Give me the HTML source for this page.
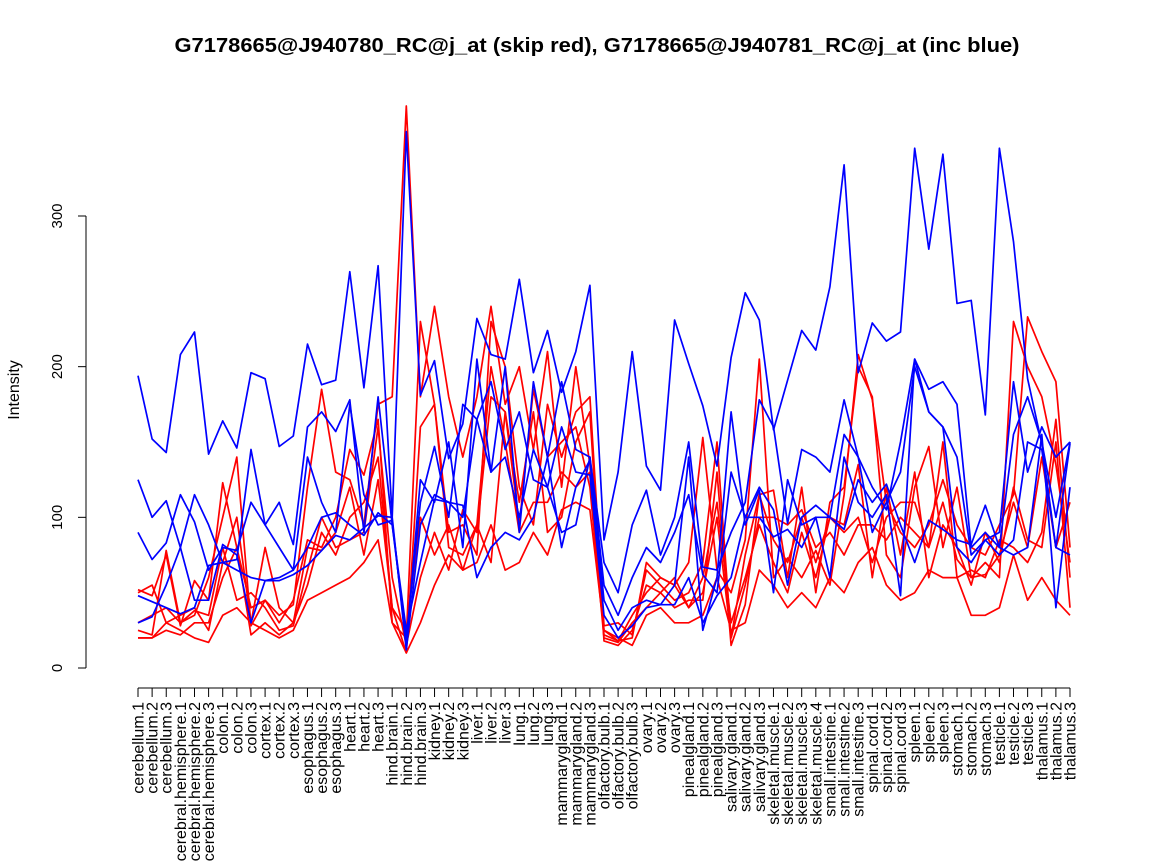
<!DOCTYPE html>
<html><head><meta charset="utf-8"><style>
html,body{margin:0;padding:0;background:#fff;overflow:hidden;}
svg{display:block;font-family:"Liberation Sans",sans-serif;}
</style></head><body>
<svg id="chart" width="1152" height="864" viewBox="0 0 1152 864" xmlns="http://www.w3.org/2000/svg">
<text x="597" y="52" text-anchor="middle" font-size="20" font-weight="bold" textLength="845" lengthAdjust="spacingAndGlyphs">G7178665@J940780_RC@j_at (skip red), G7178665@J940781_RC@j_at (inc blue)</text>
<text transform="translate(19,390) rotate(-90)" text-anchor="middle" font-size="16">Intensity</text>
<g id="axes"></g>
<g id="series"></g>
</svg>
<script>
const categories = ["cerebellum.1","cerebellum.2","cerebellum.3","cerebral.hemisphere.1","cerebral.hemisphere.2","cerebral.hemisphere.3","colon.1","colon.2","colon.3","cortex.1","cortex.2","cortex.3","esophagus.1","esophagus.2","esophagus.3","heart.1","heart.2","heart.3","hind.brain.1","hind.brain.2","hind.brain.3","kidney.1","kidney.2","kidney.3","liver.1","liver.2","liver.3","lung.1","lung.2","lung.3","mammarygland.1","mammarygland.2","mammarygland.3","olfactory.bulb.1","olfactory.bulb.2","olfactory.bulb.3","ovary.1","ovary.2","ovary.3","pinealgland.1","pinealgland.2","pinealgland.3","salivary.gland.1","salivary.gland.2","salivary.gland.3","skeletal.muscle.1","skeletal.muscle.2","skeletal.muscle.3","skeletal.muscle.4","small.intestine.1","small.intestine.2","small.intestine.3","spinal.cord.1","spinal.cord.2","spinal.cord.3","spleen.1","spleen.2","spleen.3","stomach.1","stomach.2","stomach.3","testicle.1","testicle.2","testicle.3","thalamus.1","thalamus.2","thalamus.3"];
const yTicks = [0,100,200,300];
const red1 = [52,48,75,28,58,45,123,80,40,45,35,42,120,185,130,125,95,175,180,373,180,240,180,140,180,240,175,200,145,210,120,200,135,22,18,20,70,60,55,70,153,65,50,85,205,60,73,60,78,55,115,208,178,110,90,80,95,125,95,80,75,95,115,233,210,190,80];
const red2 = [25,22,78,30,35,60,100,140,28,45,30,45,85,80,100,145,128,165,30,20,230,175,90,95,75,230,200,120,95,175,140,170,180,28,30,22,65,55,45,50,70,150,20,75,115,118,60,120,50,110,120,200,180,75,60,120,147,80,120,60,70,60,230,200,180,135,70];
const red3 = [20,20,25,22,30,30,60,80,22,30,22,30,55,90,75,100,110,140,40,10,160,175,80,75,95,70,170,110,170,90,100,150,170,18,15,25,55,50,40,45,45,130,15,42,115,85,70,100,70,100,95,135,60,120,75,130,60,95,80,55,90,70,120,85,80,150,40];
const red4 = [30,35,40,30,38,35,80,45,50,40,25,28,65,100,80,85,90,160,60,15,60,90,65,105,90,180,170,95,185,140,150,160,120,20,17,30,40,50,60,40,60,110,30,60,95,70,50,90,60,100,90,100,70,100,110,110,80,150,60,65,60,85,80,70,90,165,60];
const red5 = [20,20,30,25,20,17,35,40,30,25,20,25,45,50,55,60,70,85,30,10,30,55,75,65,70,95,65,70,90,75,105,110,105,25,20,15,35,40,30,30,35,60,25,30,65,55,40,50,40,60,50,70,80,55,45,50,65,60,60,35,35,40,75,45,60,45,35];
const red6 = [50,55,30,35,40,25,70,100,30,80,40,30,80,78,90,120,75,125,40,25,100,75,95,65,95,200,150,90,110,110,130,120,130,25,18,35,50,60,55,40,50,100,20,55,100,100,95,105,80,90,75,95,95,85,100,90,80,110,72,60,62,75,110,80,140,80,110];
const blue1 = [194,152,143,208,223,142,164,146,196,192,147,154,215,188,191,263,186,267,100,356,181,204,139,162,232,208,205,258,196,224,183,210,254,85,130,210,134,118,231,202,174,134,206,249,231,158,191,224,211,253,334,196,229,217,223,345,278,341,242,244,168,345,283,192,149,80,149];
const blue2 = [125,100,111,80,115,95,70,72,145,95,110,82,160,170,157,178,90,180,95,20,110,147,100,175,165,130,200,90,190,140,190,145,140,70,50,95,118,75,100,150,67,65,90,110,178,160,96,145,140,130,178,140,120,105,150,205,185,190,175,80,90,80,155,180,150,100,150];
const blue3 = [90,72,83,115,97,65,80,78,110,95,80,65,140,110,90,175,115,95,98,15,125,110,150,80,205,130,140,100,145,120,90,95,140,55,35,60,80,70,90,115,62,50,130,100,120,105,55,100,108,100,155,140,90,110,130,200,170,160,140,75,85,90,190,130,160,140,150];
const blue4 = [30,34,55,80,45,45,82,75,30,58,60,65,80,100,103,95,88,103,95,25,70,112,110,108,60,80,90,85,100,140,80,120,138,45,25,40,45,42,55,140,25,60,170,95,118,50,125,95,100,60,140,110,100,115,48,205,170,160,80,70,85,75,85,150,145,80,75];
const blue5 = [48,44,40,36,40,68,70,65,60,58,58,62,68,78,88,85,93,101,100,12,95,115,110,100,165,190,145,170,125,120,160,130,128,35,20,28,40,42,42,60,30,48,60,100,100,87,92,80,100,100,92,125,110,122,95,70,98,92,85,82,108,80,75,80,155,40,120];

const NS = "http://www.w3.org/2000/svg";
const X0 = 138, X1 = 1070, Y0 = 668, Y300 = 216;
function xScale(i){ return X0 + (X1 - X0) * i / (categories.length - 1); }
function yScale(v){ return Y0 + (Y300 - Y0) * v / 300; }
function mk(tag, attrs, parent){ const e = document.createElementNS(NS, tag); for (const k in attrs) e.setAttribute(k, attrs[k]); parent.appendChild(e); return e; }

const axes = document.getElementById('axes');
const yAxis = mk('line', {x1:86, x2:86, y1:yScale(0), y2:yScale(300), stroke:'#000', 'stroke-width':1}, axes);


yTicks.forEach(function(t){
  const tk = mk('line', {x1:78, x2:86, y1:yScale(t), y2:yScale(t), stroke:'#000'}, axes);
  
  
  const lb = mk('text', {transform:'translate(62,' + yScale(t) + ') rotate(-90)', 'text-anchor':'middle', 'font-size':15}, axes);
  lb.textContent = String(t);
  
  
});
const xAxis = mk('line', {x1:X0, x2:X1, y1:688, y2:688, stroke:'#000'}, axes);


categories.forEach(function(c, i){
  const x = xScale(i);
  const tk = mk('line', {x1:x, x2:x, y1:688, y2:697, stroke:'#000'}, axes);
  
  
  const lb = mk('text', {transform:'translate(' + (x + 5.5) + ',702) rotate(-90)', 'text-anchor':'end', 'font-size':16}, axes);
  lb.textContent = c;
  
  
});

const series = document.getElementById('series');
function drawLine(vals, color, name){
  const pts = vals.map(function(v, i){ return xScale(i).toFixed(1) + ',' + yScale(v).toFixed(1); }).join(' ');
  const pl = mk('polyline', {points:pts, fill:'none', stroke:color, 'stroke-width':1.7, 'stroke-linejoin':'round'}, series);
  
  
}
drawLine(red1, '#ff0000', 'red-series-1');
drawLine(red2, '#ff0000', 'red-series-2');
drawLine(red3, '#ff0000', 'red-series-3');
drawLine(red4, '#ff0000', 'red-series-4');
drawLine(red5, '#ff0000', 'red-series-5');
drawLine(red6, '#ff0000', 'red-series-6');
drawLine(blue1, '#0000ff', 'blue-series-1');
drawLine(blue2, '#0000ff', 'blue-series-2');
drawLine(blue3, '#0000ff', 'blue-series-3');
drawLine(blue4, '#0000ff', 'blue-series-4');
drawLine(blue5, '#0000ff', 'blue-series-5');
</script>
</body></html>
